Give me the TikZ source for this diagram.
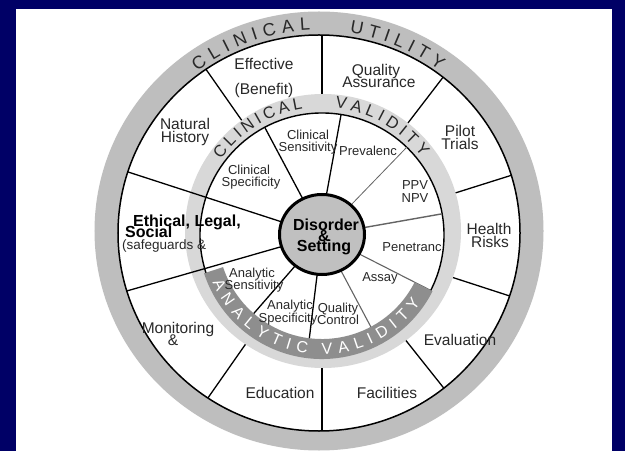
\documentclass[tikz,border=0pt]{standalone}
\usepackage{fontspec}
\setmainfont{Liberation Sans}
\definecolor{navy}{RGB}{0,0,102}
\definecolor{ringgray}{RGB}{190,190,190}
\definecolor{lightring}{RGB}{216,216,216}
\definecolor{darkband}{RGB}{142,142,142}
\definecolor{hubgray}{RGB}{192,192,192}
\definecolor{labeltext}{RGB}{40,40,40}
\definecolor{spokegray}{RGB}{100,100,100}
\begin{document}
\begin{tikzpicture}[x=1bp,y=1bp,
  lbl/.style={inner sep=0pt, anchor=base, text=labeltext, font=\fontsize{15.5bp}{15.5bp}\selectfont},
  sublbl/.style={inner sep=0pt, anchor=base, text=labeltext, font=\fontsize{13bp}{13bp}\selectfont},
  boldlbl/.style={inner sep=0pt, anchor=base west, text=black, font=\fontsize{16bp}{16bp}\selectfont\bfseries},
  notelbl/.style={inner sep=0pt, anchor=base west, text=labeltext, font=\fontsize{13.5bp}{13.5bp}\selectfont},
  hublbl/.style={inner sep=0pt, anchor=base, text=black, font=\fontsize{16bp}{16bp}\selectfont\bfseries},
  spoke/.style={black, line width=1.3bp},
  softspoke/.style={spokegray, line width=1.1bp},
  utilletter/.style={inner sep=0pt, text=labeltext, font=\fontsize{18bp}{18bp}\selectfont},
  cvletter/.style={inner sep=0pt, text=labeltext, font=\fontsize{16.5bp}{16.5bp}\selectfont},
  avletter/.style={inner sep=0pt, text=white, font=\fontsize{16bp}{16bp}\selectfont},
]
\useasboundingbox (0,0) rectangle (625,-451);

% frame and page
\fill[navy] (0,0) rectangle (625,-451);
\fill[white] (16,-9) rectangle (612,-451);

\coordinate (C) at (322,-235);

% outer grey ring: clinical utility
\fill[ringgray, even odd rule]
  (319,-231) ellipse [x radius=224.5bp, y radius=219.5bp]
  (319,-233) ellipse [x radius=201bp, y radius=198bp];

% outer spokes between the utility sectors
\begin{scope}
  \clip (319,-233) ellipse [x radius=201bp, y radius=198bp];
  \foreach \a in {125,90,52.5,17.5,-18,-51.5,-90,235}
    \draw[spoke] (C) -- ++(\a:260bp);
\end{scope}

% clinical validity ring
\fill[lightring] (323,-231) ellipse [x radius=138bp, y radius=137bp];

% inner wheel
\filldraw[fill=white, draw=black, line width=1.4bp] (C) circle [radius=122bp];
\foreach \a in {118,-97,229}
  \draw[spoke] (C) -- ++(\a:122bp);
\draw[spoke] ([shift={(84:38bp)}]C) -- ([shift={(81:122bp)}]C);
\draw[softspoke, line width=0.8bp] (C) -- ++(46:122bp);
\draw[softspoke, line width=1.4bp] (C) -- ++(10:122bp);
\foreach \a in {-27,-62}
  \draw[softspoke] (C) -- ++(\a:122bp);

% the two spokes that run from the hub to the rim
\begin{scope}
  \clip (319,-233) ellipse [x radius=201bp, y radius=198bp];
  \draw[spoke] (C) -- ++(162:260bp);
  \draw[spoke] (C) -- ++(196:260bp);
\end{scope}

% analytic validity band
\fill[darkband]
  ([shift={(198:104bp)}]C) arc [start angle=198, end angle=333, radius=104bp]
  -- ([shift={(333:124bp)}]C) arc [start angle=333, end angle=198, radius=124bp]
  -- cycle;

% rim line of the utility ring
\draw[black, line width=1.5bp] (319,-233) ellipse [x radius=201bp, y radius=198bp];

% hub
\filldraw[fill=hubgray, draw=black, line width=3bp]
  (322,-234.5) ellipse [x radius=42.5bp, y radius=40bp];
\node[hublbl] (hub1) at (326,-230.5) {Disorder};
\node[hublbl] (hub2) at (324,-242) {\&};
\node[hublbl] (hub3) at (324,-251.5) {Setting};

% ring titles
\foreach \ch/\ang [count=\i] in {C/125.5,L/120.55,I/116.7,N/112.44,I/108.18,C/103.92,A/98.69,L/93.87,
                                 U/79.4,T/74.5,I/70.71,L/67.06,I/63.41,T/59.62,Y/54.86}
  \node[utilletter, rotate=\ang-90] (cu\i) at ([shift={(\ang:207bp)}]319,-231) {\ch};

\foreach \ch/\ang [count=\i] in {C/142,L/135.51,I/130.63,N/125.15,I/119.67,C/114.19,A/107.3,L/101.01,
                                 V/81.4,A/74.42,L/67.84,I/62.67,D/56.91,I/51.15,T/45.78,Y/39}
  \node[cvletter, rotate=\ang-90] (cv\i) at ([shift={(\ang:129.5bp)}]322,-231) {\ch};

\foreach \ch/\ang [count=\i] in {A/206,N/214.49,A/222.98,L/230.79,Y/238.6,T/246.64,I/253.09,C/260,
                                 V/272.5,A/280.75,L/288.55,I/294.76,D/301.65,I/308.54,T/314.98,Y/323}
  \node[avletter, rotate=\ang+90] (av\i) at ([shift={(\ang:114bp)}]C) {\ch};

% utility sectors
\node[lbl] (eff1) at (264,-70) {Effective};
\node[lbl] (eff2) at (264,-95) {(Benefit)};
\node[lbl] (qa1) at (376,-75.5) {Quality};
\node[lbl] (qa2) at (379,-88) {Assurance};
\node[lbl] (pt1) at (460,-137) {Pilot};
\node[lbl] (pt2) at (460,-150) {Trials};
\node[lbl] (nh1) at (185,-130) {Natural};
\node[lbl] (nh2) at (185,-143) {History};
\node[lbl] (hr1) at (489,-235) {Health};
\node[lbl] (hr2) at (490,-248) {Risks};
\node[lbl] (ev) at (460,-345) {Evaluation};
\node[lbl] (fa) at (387,-398) {Facilities};
\node[lbl] (ed) at (280,-398) {Education};
\node[lbl] (mo1) at (178,-333) {Monitoring};
\node[lbl] (mo2) at (173,-345) {\&};
\node[boldlbl] (els1) at (133,-226.5) {Ethical, Legal,};
\node[boldlbl] (els2) at (125,-237.5) {Social};
\node[notelbl] (els3) at (122,-250) {(safeguards \&};

% validity sectors
\node[sublbl] (cs1) at (308,-140) {Clinical};
\node[sublbl] (cs2) at (308,-151.5) {Sensitivity};
\node[sublbl] (pv) at (368,-156) {Prevalenc};
\node[sublbl] (cp1) at (249,-175) {Clinical};
\node[sublbl] (cp2) at (251,-186.5) {Specificity};
\node[sublbl] (ppv) at (415,-189.5) {PPV};
\node[sublbl] (npv) at (415,-202.5) {NPV};
\node[sublbl] (pe) at (412,-251.5) {Penetranc};
\node[sublbl] (as) at (380,-281.5) {Assay};
\node[sublbl] (an1) at (252,-277.5) {Analytic};
\node[sublbl] (an2) at (254,-290) {Sensitivity};
\node[sublbl] (ap1) at (290,-309.5) {Analytic};
\node[sublbl] (ap2) at (288,-322.5) {Specificity};
\node[sublbl] (qc1) at (338,-312.5) {Quality};
\node[sublbl] (qc2) at (338,-324.5) {Control};
\end{tikzpicture}
\end{document}
